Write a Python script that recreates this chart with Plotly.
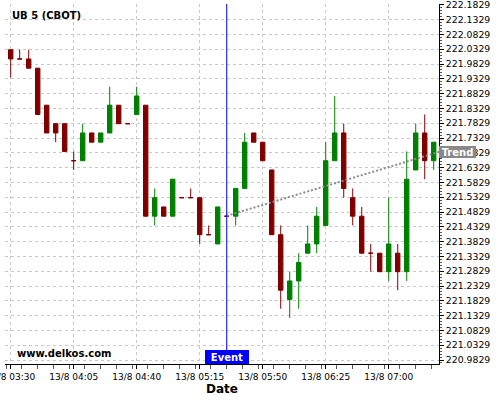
import pandas as pd
import plotly.graph_objects as go

# UB 5 (CBOT), 5-minute candles on 13/8, 03:30 to 07:25
times = pd.date_range("2025-08-13 03:30", periods=48, freq="5min")

open_ = [222.03125, 222.0, 222.0, 221.96875, 221.84375, 221.78125, 221.78125, 221.65625,
         221.65625, 221.75, 221.71875, 221.75, 221.84375, 221.78125, 221.8125, 221.84375,
         221.46875, 221.5, 221.46875, 221.53125, 221.53125, 221.53125, 221.40625, 221.375,
         221.46875, 221.46875, 221.5625, 221.75, 221.71875, 221.625, 221.40625, 221.1875,
         221.25, 221.34375, 221.375, 221.4375, 221.65625, 221.75, 221.53125, 221.46875,
         221.34375, 221.34375, 221.28125, 221.34375, 221.28125, 221.625, 221.75, 221.65625]
high = [222.03125, 222.03125, 222.03125, 221.96875, 221.84375, 221.78125, 221.78125, 221.6875,
        221.78125, 221.75, 221.75, 221.90625, 221.84375, 221.78125, 221.90625, 221.84375,
        221.5625, 221.5, 221.59375, 221.53125, 221.5625, 221.53125, 221.4375, 221.5,
        221.46875, 221.5625, 221.75, 221.75, 221.71875, 221.625, 221.4375, 221.28125,
        221.34375, 221.4375, 221.5, 221.71875, 221.875, 221.78125, 221.5625, 221.5,
        221.375, 221.34375, 221.53125, 221.375, 221.6875, 221.78125, 221.8125, 221.71875]
low = [221.9375, 222.0, 221.96875, 221.8125, 221.75, 221.71875, 221.6875, 221.625,
       221.65625, 221.71875, 221.71875, 221.75, 221.78125, 221.78125, 221.8125, 221.46875,
       221.4375, 221.46875, 221.46875, 221.53125, 221.53125, 221.375, 221.40625, 221.375,
       221.46875, 221.4375, 221.5625, 221.71875, 221.65625, 221.40625, 221.15625, 221.125,
       221.15625, 221.34375, 221.34375, 221.4375, 221.65625, 221.53125, 221.4375, 221.34375,
       221.28125, 221.28125, 221.25, 221.21875, 221.25, 221.625, 221.59375, 221.625]
close = [222.0, 222.0, 221.96875, 221.8125, 221.75, 221.75, 221.6875, 221.65625,
         221.75, 221.71875, 221.75, 221.84375, 221.78125, 221.78125, 221.875, 221.46875,
         221.53125, 221.46875, 221.59375, 221.53125, 221.53125, 221.40625, 221.40625, 221.5,
         221.46875, 221.5625, 221.71875, 221.71875, 221.65625, 221.40625, 221.21875, 221.25,
         221.3125, 221.375, 221.46875, 221.65625, 221.75, 221.5625, 221.46875, 221.34375,
         221.34375, 221.28125, 221.375, 221.28125, 221.59375, 221.75, 221.65625, 221.71875]

event_time = "2025-08-13 05:30"
trend_x = ["2025-08-13 05:30", "2025-08-13 07:28"]
trend_y = [221.470, 221.686]

x_range = ["2025-08-13 03:26:50", "2025-08-13 07:27:56"]
y_range = [220.9694, 222.1856]

fig = go.Figure()

fig.add_trace(go.Candlestick(
    x=times, open=open_, high=high, low=low, close=close,
    increasing=dict(line=dict(color="#008000", width=1), fillcolor="#008000"),
    decreasing=dict(line=dict(color="#800000", width=1), fillcolor="#800000"),
    whiskerwidth=0, hoverinfo="skip",
))

# linha de tendencia pontilhada
fig.add_trace(go.Scatter(
    x=trend_x, y=trend_y, mode="lines",
    line=dict(color="#8c8c8c", width=2, dash="2px,2px"),
    hoverinfo="skip",
))

fig.add_vline(x=pd.Timestamp(event_time).value / 1e6, line=dict(color="#0000ff", width=1))

grid = dict(showgrid=True, gridcolor="#c8c8c8", gridwidth=1, griddash="dot")

fig.update_layout(
    width=500, height=400,
    margin=dict(l=5, r=61, t=4, b=36),
    plot_bgcolor="white", paper_bgcolor="white",
    showlegend=False,
    font=dict(family="DejaVu Sans", size=9, color="black"),
    boxgap=0.3,
    xaxis=dict(
        type="date", range=x_range, rangeslider=dict(visible=False),
        automargin=False, ticklabeloverflow="allow",
        tick0="2025-08-13 03:30", dtick=35 * 60 * 1000, tickformat="%d/%-m %H:%M",
        ticks="outside", ticklen=4, tickcolor="black",
        showline=True, linecolor="black", linewidth=1,
        minor=dict(dtick=35 * 60 * 1000 / 4, ticks="outside", ticklen=4, tickcolor="#555555"),
        title=dict(text="<b>Date</b>", font=dict(size=12), standoff=2),
        zeroline=False, **grid,
    ),
    yaxis=dict(
        side="right", range=y_range,
        automargin=False, ticklabeloverflow="allow",
        tick0=220.9829, dtick=0.05, tickformat=".4f",
        ticks="outside", ticklen=4, tickcolor="black",
        minor=dict(dtick=0.01, tick0=220.9829, ticks="outside", ticklen=2, tickcolor="#555555"),
        showline=True, linecolor="black", linewidth=1,
        tickfont=dict(size=9.3),
        zeroline=False, **grid,
    ),
)

fig.add_annotation(
    text="<b>UB 5 (CBOT)</b>", xref="paper", yref="paper", x=0.0115, y=0.9675,
    xanchor="left", yanchor="middle", showarrow=False, font=dict(size=10),
)
fig.add_annotation(
    text="<b>www.delkos.com</b>", xref="paper", yref="paper", x=0.023, y=0.028,
    xanchor="left", yanchor="middle", showarrow=False, font=dict(size=10),
)
fig.add_annotation(
    text="<b>Event</b>", x=event_time, xref="x", yref="paper", y=0,
    xanchor="center", yanchor="bottom", showarrow=False,
    bgcolor="#0000ff", font=dict(size=10, color="white"),
    width=44, height=14, borderpad=0, borderwidth=0,
)
fig.add_annotation(
    text="<b>Trend</b>", xref="paper", x=1, yref="y", y=trend_y[-1],
    xanchor="left", yanchor="middle", showarrow=False,
    bgcolor="#888888", font=dict(size=10, color="white"),
    width=37, height=12, borderpad=0, borderwidth=0,
)

# tira a margem padrao do body para o grafico ficar colado no canto
fig.write_html("out.html", config={"displayModeBar": False},
               post_script="document.body.style.margin='0';")
